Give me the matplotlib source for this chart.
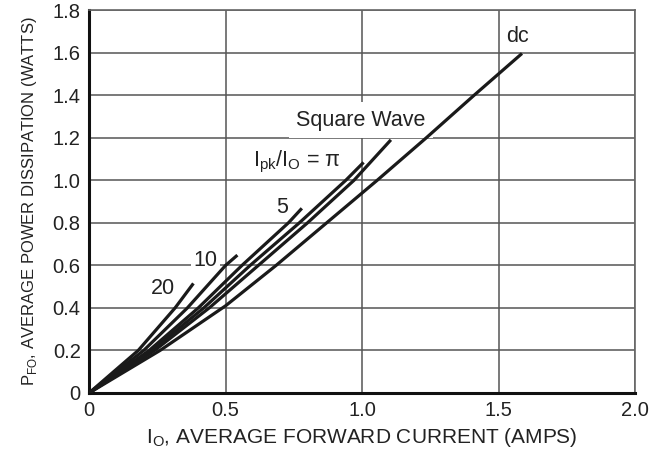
import matplotlib
matplotlib.use("Agg")
import matplotlib.pyplot as plt

plt.rcParams['font.family'] = ['Liberation Sans', 'DejaVu Sans']
plt.rcParams['mathtext.fontset'] = 'custom'
plt.rcParams['mathtext.rm'] = 'Liberation Sans'

# curves: (I_O amps, P_FO watts)
dc_x = [0, 0.26, 0.50, 0.685, 0.87, 1.055, 1.235, 1.41, 1.585]
dc_y = [0, 0.20, 0.41, 0.60, 0.80, 1.00, 1.20, 1.40, 1.596]

sq_x = [0, 0.24, 0.44, 0.62, 0.80, 0.97, 1.105]
sq_y = [0, 0.20, 0.40, 0.60, 0.80, 1.00, 1.19]

pi_x = [0, 0.23, 0.42, 0.59, 0.77, 0.94, 1.005]
pi_y = [0, 0.20, 0.40, 0.60, 0.80, 1.00, 1.084]

r5_x = [0, 0.22, 0.40, 0.56, 0.73, 0.779]
r5_y = [0, 0.20, 0.40, 0.60, 0.80, 0.868]

r10_x = [0, 0.20, 0.36, 0.50, 0.543]
r10_y = [0, 0.20, 0.40, 0.60, 0.648]

r20_x = [0, 0.18, 0.315, 0.382]
r20_y = [0, 0.20, 0.40, 0.515]

x_ticks = [0, 0.5, 1.0, 1.5, 2.0]
x_labels = ['0', '0.5', '1.0', '1.5', '2.0']
y_ticks = [0, 0.2, 0.4, 0.6, 0.8, 1.0, 1.2, 1.4, 1.6, 1.8]
y_labels = ['0', '0.2', '0.4', '0.6', '0.8', '1.0', '1.2', '1.4', '1.6', '1.8']

fig = plt.figure(figsize=(6.55, 4.58), dpi=100)
ax = fig.add_axes([0.136, 0.142, 0.834, 0.836])

ink = '#1a1a1a'
txt = '#222222'
for xs, ys in [(dc_x, dc_y), (sq_x, sq_y), (pi_x, pi_y),
               (r5_x, r5_y), (r10_x, r10_y), (r20_x, r20_y)]:
    ax.plot(xs, ys, color=ink, lw=2.3, solid_capstyle='butt', zorder=4)

ax.set_xlim(0, 2.0)
ax.set_ylim(0, 1.8)
ax.set_xticks(x_ticks)
ax.set_xticklabels(x_labels)
ax.set_yticks(y_ticks)
ax.set_yticklabels(y_labels)
ax.tick_params(length=0, labelsize=14.5, colors=txt)
ax.tick_params(axis='x', pad=6)
ax.tick_params(axis='y', pad=6)
ax.grid(True, color='#555555', lw=1.1)
ax.set_axisbelow(True)

for s in ['left', 'bottom']:
    ax.spines[s].set_color('#111111')
    ax.spines[s].set_linewidth(2.2)
for s in ['top', 'right']:
    ax.spines[s].set_color('#666666')
    ax.spines[s].set_linewidth(1.2)

ax.set_xlabel(r'I$_{\mathrm{O}}$, AVERAGE FORWARD CURRENT (AMPS)', fontsize=15, color=txt, labelpad=4)
ax.set_ylabel(r'P$_{\mathrm{FO}}$, AVERAGE POWER DISSIPATION (WATTS)', fontsize=12, color=txt, labelpad=10)

box = dict(boxstyle='square,pad=0.35', fc='white', ec='none')
ax.text(1.57, 1.675, 'dc', fontsize=15.5, ha='center', va='center', color=txt)
ax.text(0.995, 1.283, 'Square Wave', fontsize=15.5, ha='center', va='center', color=txt, bbox=box, zorder=3)
ax.text(0.76, 1.085, r'I$_{\mathrm{pk}}$/I$_{\mathrm{O}}$ = π', fontsize=15.5, ha='center', va='center', color=txt)
ax.text(0.707, 0.872, '5', fontsize=15.5, ha='center', va='center', color=txt)
ax.text(0.425, 0.622, '10', fontsize=15.5, ha='center', va='center', color=txt,
        bbox=dict(boxstyle='square,pad=0.12', fc='white', ec='none'), zorder=3)
ax.text(0.271, 0.489, '20', fontsize=15.5, ha='center', va='center', color=txt)

fig.savefig('out.png', dpi=100)
